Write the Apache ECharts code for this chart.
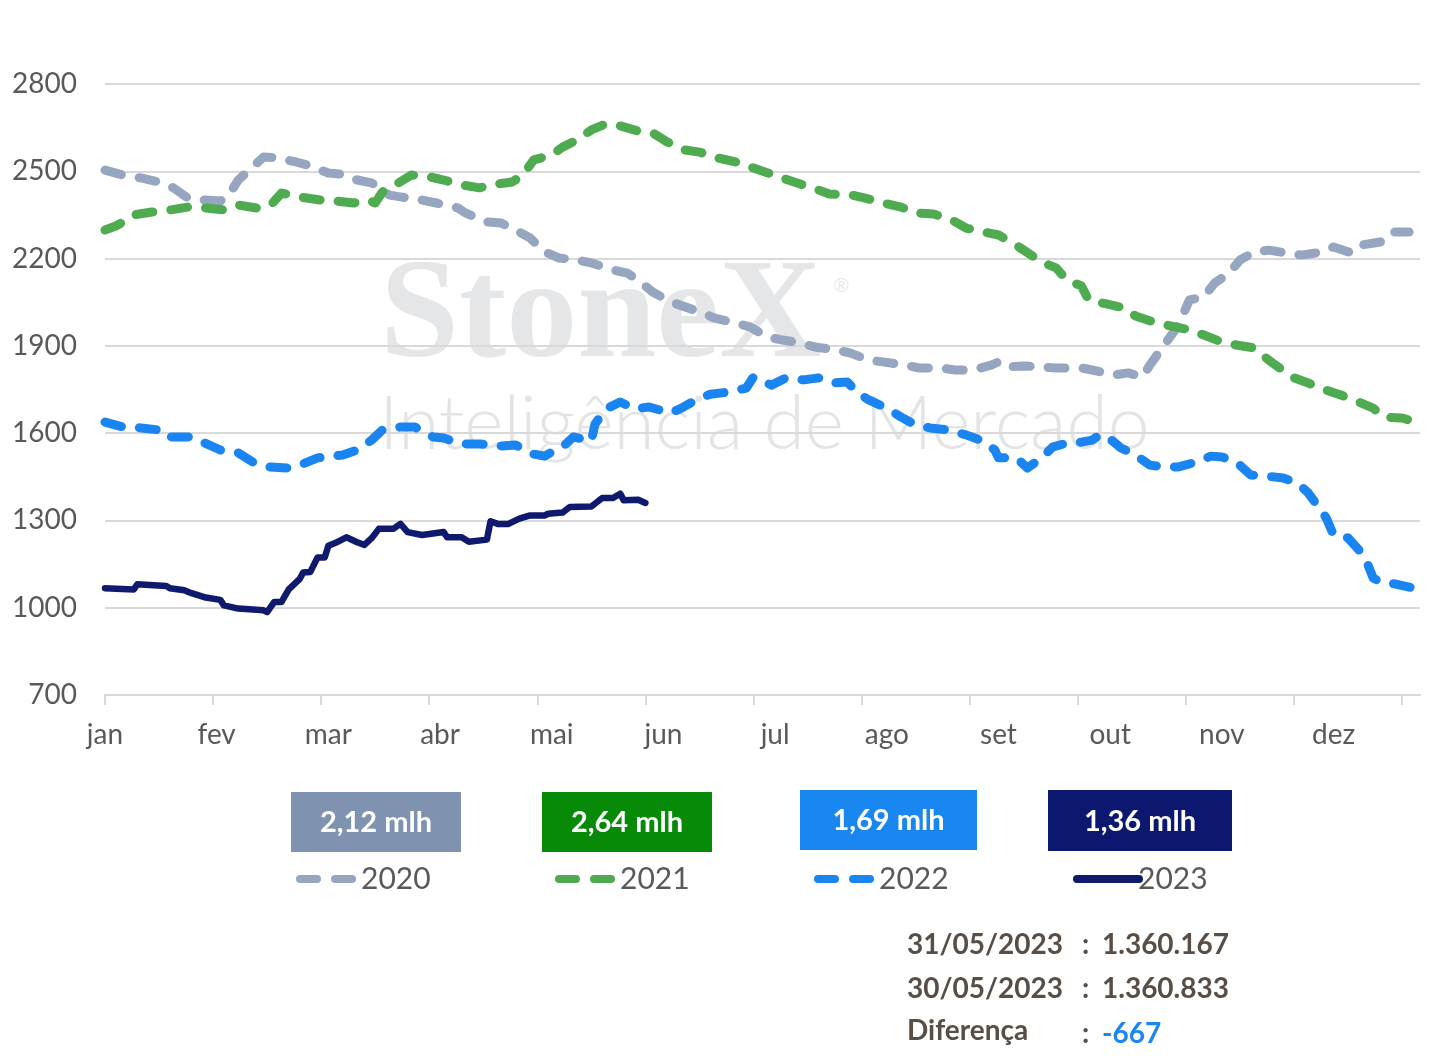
<!DOCTYPE html>
<html><head><meta charset="utf-8">
<script src="https://cdn.jsdelivr.net/npm/echarts@6/dist/echarts.min.js"></script>
<style>html,body{margin:0;padding:0;background:#fff}#c{width:1456px;height:1057px}</style>
</head><body><div id="c"></div>
<script>
const months = ['jan','fev','mar','abr','mai','jun','jul','ago','set','out','nov','dez'];
const labelDays = [0,31,62,93,124,155,186,217,248,279,310,341];
const tickDays = [0,30,60,90,120,150,180,210,240,270,300,330,360];
const years = ['2020','2021','2022','2023'];
const boxLabels = ['2,12 mlh','2,64 mlh','1,69 mlh','1,36 mlh'];
const infoLabels = ['31/05/2023','30/05/2023','Diferença'];
const infoValues = ['1.360.167','1.360.833','-667'];

const days2020 = [0,5,10,15,19,23,28,32,34,37,40,44,48,53,56,62,65,70,74,79,82,88,92,98,100,106,110,115,118,122,126,131,135,141,145,149,152,157,161,166,169,175,179,184,188,193,197,203,207,212,216,222,226,232,236,241,246,248,250,255,260,264,271,274,280,284,288,290,295,298,301,305,308,312,315,319,323,328,332,338,341,346,349,354,357,362];
const vals2020 = [2504,2487,2477,2463,2443,2408,2401,2398,2412,2470,2504,2549,2546,2532,2522,2494,2491,2470,2460,2418,2412,2401,2391,2374,2357,2326,2322,2291,2271,2223,2202,2195,2185,2161,2150,2116,2085,2051,2034,2013,1996,1979,1965,1930,1920,1910,1896,1886,1875,1851,1845,1834,1824,1824,1817,1817,1834,1845,1827,1831,1827,1824,1824,1817,1800,1807,1793,1834,1920,1972,2058,2068,2116,2150,2195,2223,2229,2219,2212,2223,2240,2219,2247,2257,2291,2291];

const days2021 = [0,3,5,8,13,18,23,28,33,37,42,46,49,54,60,64,69,73,75,77,80,85,89,94,99,104,107,113,116,119,124,127,131,135,139,143,148,152,156,161,165,170,175,180,184,188,193,198,201,207,211,216,221,225,230,235,239,244,248,252,255,260,264,267,271,273,278,283,286,291,296,301,305,310,314,319,323,326,330,334,339,343,348,352,355,360,364];
const vals2021 = [2298,2312,2326,2350,2360,2367,2377,2374,2367,2384,2374,2384,2425,2412,2401,2398,2391,2401,2391,2429,2449,2487,2484,2470,2453,2443,2453,2463,2487,2539,2556,2583,2608,2642,2663,2656,2638,2632,2601,2573,2566,2546,2532,2511,2494,2477,2456,2436,2422,2419,2408,2391,2377,2357,2353,2333,2305,2291,2281,2253,2229,2188,2168,2126,2106,2058,2044,2030,2003,1982,1968,1955,1937,1913,1903,1893,1851,1824,1790,1772,1748,1731,1707,1686,1655,1652,1638];

const days2022 = [0,5,10,15,17,24,27,32,37,41,45,51,54,59,66,70,74,77,82,86,91,94,99,104,110,114,119,122,125,127,130,135,136,139,143,147,151,157,160,164,168,173,178,180,185,189,194,198,202,206,209,212,217,221,225,229,234,239,243,247,248,253,256,260,263,267,271,274,276,278,282,286,290,294,298,303,307,310,314,318,322,327,331,334,337,339,341,345,348,350,352,354,358,363];
const vals2022 = [1638,1621,1618,1611,1587,1587,1570,1542,1532,1501,1484,1480,1490,1515,1525,1542,1576,1611,1621,1621,1587,1583,1563,1563,1556,1559,1528,1521,1542,1552,1587,1573,1631,1683,1707,1683,1690,1669,1686,1714,1734,1741,1755,1793,1765,1790,1783,1790,1772,1776,1738,1714,1686,1655,1628,1618,1611,1594,1576,1542,1515,1515,1480,1515,1552,1566,1569,1576,1593,1590,1549,1525,1490,1484,1484,1501,1521,1518,1501,1456,1453,1446,1429,1394,1343,1308,1250,1240,1199,1164,1102,1089,1082,1068];

const days2023 = [0,8,9,17,18,22,24,28,32,33,37,44,45,47,49,51,54,55,57,59,61,62,64,67,70,72,74,76,80,82,84,88,94,95,99,101,106,107,109,112,115,118,122,123,127,129,135,138,141,143,144,148,150];
const vals2023 = [1067,1063,1081,1075,1067,1060,1050,1035,1027,1008,997,991,985,1020,1020,1063,1098,1121,1123,1173,1173,1213,1223,1242,1225,1216,1239,1271,1271,1288,1260,1250,1260,1242,1242,1227,1234,1297,1288,1288,1306,1317,1317,1323,1327,1346,1348,1377,1377,1392,1369,1371,1360];

const seriesDays = [days2020, days2021, days2022, days2023];
const seriesVals = [vals2020, vals2021, vals2022, vals2023];
const lineColors = ['#97a6c0','#4fab4f','#1a85f0','#0f1a6e'];
const boxColors = ['#7f93b0','#078a07','#1a87f0','#0c1870'];
const boxRects = [[291,792,170,60],[542,792,170,60],[800,790,177,60],[1048,790,184,61]];
const legendLeft = [296,555,814,1073];

const FONT = 'Lato, "Noto Sans", sans-serif';
const chart = echarts.init(document.getElementById('c'), null, {renderer:'canvas'});

const series = years.map((y,i)=>({
  name: y, type:'line', symbol:'none', showSymbol:false, smooth:false, z: 3 + i,
  data: seriesDays[i].map((d,k)=>[d, seriesVals[i][k]]),
  lineStyle: {
    color: lineColors[i], width: i===3 ? 6.5 : 9, cap:'round', join:'round',
    type: i===3 ? 'solid' : [17,18]
  },
  itemStyle: {color: lineColors[i]}
}));

const graphics = [];
graphics.push({type:'text', left:380, top:248, z:0, silent:true,
  style:{text:'StoneX', font:'bold 142px "Liberation Serif", "DejaVu Serif", serif', fill:'#e5e6e8'}});
graphics.push({type:'text', left:834, top:276, z:0, silent:true,
  style:{text:'®', font:'20px "Liberation Sans", sans-serif', fill:'#e5e6e8'}});
graphics.push({type:'text', left:379, top:387, z:0, silent:true,
  style:{text:'Inteligência de Mercado', font:'300 75px Lato, "Noto Sans", sans-serif', fill:'#e3e4e6'}});
boxRects.forEach((r,i)=>{
  graphics.push({type:'rect', shape:{x:r[0], y:r[1], width:r[2], height:r[3]}, style:{fill:boxColors[i]}, z:10});
  graphics.push({type:'text', x:r[0]+r[2]/2, y:r[1]+r[3]/2+1, z:11,
    style:{text:boxLabels[i], fill:'#fff', font:'bold 29px ' + FONT, align:'center', verticalAlign:'middle'}});
});
const rowY = [945, 989, 1031];
infoLabels.forEach((t,i)=>{
  graphics.push({type:'text', x:907, y:rowY[i], z:11,
    style:{text:t, fill:'#594e46', font:'bold 28px ' + FONT, verticalAlign:'middle'}});
  graphics.push({type:'text', x:1082, y:rowY[i]+(i===2?3:0), z:11,
    style:{text:':', fill:'#594e46', font:'bold 28px ' + FONT, verticalAlign:'middle'}});
  graphics.push({type:'text', x:1102, y:rowY[i]+(i===2?3:0), z:11,
    style:{text:infoValues[i], fill: i===2 ? '#1a87f0' : '#594e46', font:'bold 28px ' + FONT, verticalAlign:'middle'}});
});

chart.setOption({
  animation:false,
  backgroundColor:'#ffffff',
  grid:{left:105, right:36, top:84, bottom:362, containLabel:false},
  xAxis:{
    type:'value', min:0, max:365,
    axisLine:{show:true, lineStyle:{color:'#d9d9d9', width:2}},
    axisTick:{show:true, length:10, lineStyle:{color:'#d9d9d9', width:2}, customValues: tickDays},
    axisLabel:{show:true, customValues: labelDays, margin:26, fontSize:28, color:'#595959', fontFamily:FONT,
      formatter: v => months[labelDays.indexOf(v)] || ''},
    splitLine:{show:false}
  },
  yAxis:{
    type:'value', min:700, max:2800, interval:300,
    axisLine:{show:false}, axisTick:{show:false},
    axisLabel:{margin:28, fontSize:28, color:'#595959', fontFamily:FONT, formatter: v => String(v)},
    splitLine:{show:true, lineStyle:{color:'#d9d9d9', width:2}}
  },
  legend: years.map((y,i)=>({
    data:[y], left: legendLeft[i], top: 864, orient:'horizontal', padding:0,
    itemWidth:62, itemHeight:30, itemGap:0, selectedMode:false,
    itemStyle:{opacity:0},
    lineStyle:{width:8, type:'inherit', cap:'round'},
    textStyle:{fontSize:30, color:'#595959', fontFamily:FONT, padding:[0,0,0,-6]}
  })),
  graphic: graphics,
  series: series
});
</script>
</body></html>
